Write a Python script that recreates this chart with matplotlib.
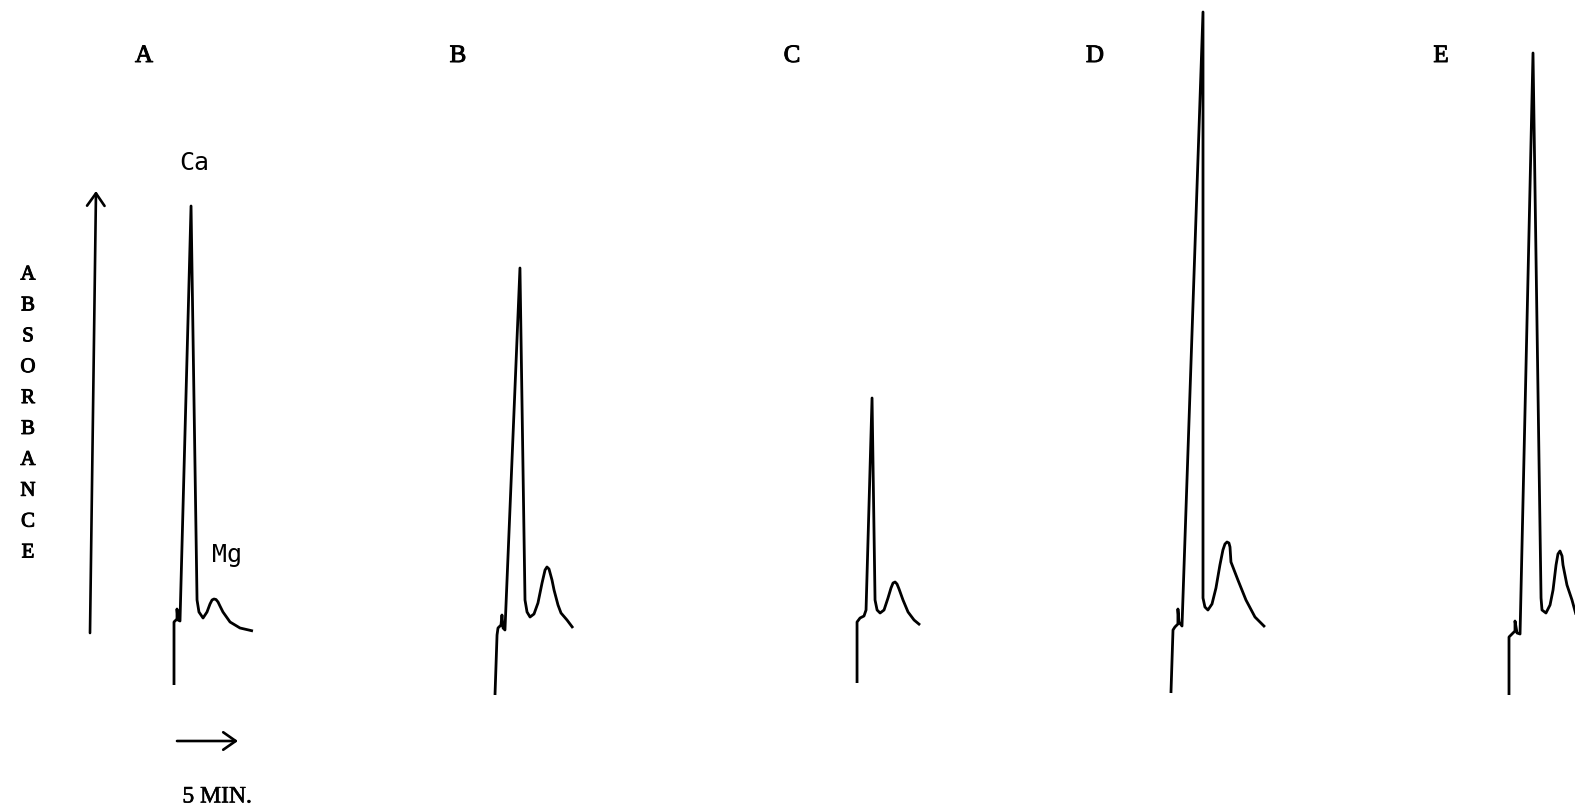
import matplotlib
matplotlib.use("Agg")
import matplotlib.pyplot as plt
import matplotlib.patheffects as pe

# ---- data: chromatogram traces (time in min after pen start, signal in absorbance units) ----
panel_labels = ["A", "B", "C", "D", "E"]
panel_start_min = [14.5, 41.25, 71.42, 97.58, 125.75]

time_A = [0, 0, 0.25, 0.25, 0.33, 0.5, 1.42, 1.92, 2.08, 2.42, 2.75, 3.0, 3.17, 3.33, 3.5, 3.67, 3.83, 4.08, 4.67, 5.5, 6.58]
sig_A = [0.15, 0.78, 0.81, 0.91, 0.80, 0.79, 4.94, 1.00, 0.88, 0.82, 0.88, 0.96, 1.00, 1.01, 1.005, 0.98, 0.94, 0.88, 0.78, 0.72, 0.69]

time_B = [0, 0.17, 0.25, 0.5, 0.58, 0.67, 0.83, 2.08, 2.5, 2.67, 2.92, 3.25, 3.58, 3.92, 4.17, 4.33, 4.5, 4.75, 4.92, 5.25, 5.5, 6.0, 6.5]
sig_B = [0.05, 0.65, 0.72, 0.75, 0.85, 0.72, 0.70, 4.32, 1.00, 0.88, 0.83, 0.86, 0.97, 1.17, 1.30, 1.33, 1.31, 1.20, 1.10, 0.95, 0.87, 0.80, 0.72]

time_C = [0, 0, 0.25, 0.58, 0.75, 1.25, 1.5, 1.67, 1.92, 2.25, 2.58, 2.83, 3.0, 3.17, 3.33, 3.5, 3.83, 4.25, 4.75, 5.25]
sig_C = [0.17, 0.78, 0.82, 0.84, 0.90, 3.02, 1.00, 0.90, 0.87, 0.90, 1.02, 1.12, 1.17, 1.18, 1.16, 1.11, 1.00, 0.88, 0.80, 0.75]

time_D = [0, 0.17, 0.33, 0.58, 0.58, 0.67, 0.92, 2.67, 2.67, 2.83, 3.08, 3.42, 3.75, 4.08, 4.33, 4.5, 4.67, 4.83, 4.92, 5.0, 5.58, 6.25, 7.0, 7.83]
sig_D = [0.07, 0.70, 0.73, 0.76, 0.91, 0.78, 0.74, 6.88, 1.02, 0.93, 0.90, 0.96, 1.12, 1.35, 1.50, 1.56, 1.58, 1.57, 1.53, 1.38, 1.20, 1.00, 0.83, 0.73]

time_E = [0, 0, 0.25, 0.5, 0.5, 0.67, 0.92, 2.0, 2.67, 2.75, 3.08, 3.42, 3.67, 3.92, 4.08, 4.25, 4.42, 4.5, 4.83, 5.25, 5.75]
sig_E = [0.05, 0.63, 0.66, 0.69, 0.79, 0.67, 0.66, 6.47, 1.02, 0.90, 0.87, 0.95, 1.10, 1.35, 1.46, 1.49, 1.44, 1.35, 1.15, 1.00, 0.78]

times = [time_A, time_B, time_C, time_D, time_E]
signals = [sig_A, sig_B, sig_C, sig_D, sig_E]

y_axis_label = "ABSORBANCE"
time_label = "5 MIN."
peak_labels = ["Ca", "Mg"]

# ---- figure ----
W, H, DPI = 1575, 807, 100
fig = plt.figure(figsize=(W / DPI, H / DPI), dpi=DPI)
ax = fig.add_axes([0, 0, 1, 1])
ax.set_xlim(0, W / 12.0)
ax.set_ylim((700 - H) / 100.0, 7.0)
ax.axis("off")

for t0, tt, ss in zip(panel_start_min, times, signals):
    ax.plot([t0 + t for t in tt], ss, color="black", lw=2.0,
            solid_joinstyle="round", solid_capstyle="butt")


def fp(x, y):
    return (x / W, 1 - y / H)


serif = "Liberation Serif"
bold_fx = [pe.withStroke(linewidth=0.7, foreground="black")]
letter_x = [144, 458, 792, 1095, 1441]
for lab, lx in zip(panel_labels, letter_x):
    fig.text(*fp(lx, 56), lab, fontsize=18, family=serif, ha="center", va="center",
             path_effects=bold_fx)

arrow_kw = dict(arrowstyle="->,head_length=0.5,head_width=0.35", lw=1.9,
                color="black", mutation_scale=18, shrinkA=0, shrinkB=0)
# vertical absorbance arrow
ax.annotate("", xy=fp(96, 191), xytext=fp(90, 633), xycoords="figure fraction",
            textcoords="figure fraction", arrowprops=arrow_kw)
# time arrow
ax.annotate("", xy=fp(238, 741), xytext=fp(177, 741), xycoords="figure fraction",
            textcoords="figure fraction", arrowprops=arrow_kw)
fig.text(*fp(217, 797), time_label, fontsize=17, family=serif, ha="center", va="center",
         path_effects=[pe.withStroke(linewidth=0.4, foreground="black")])

# vertical letters
n = len(y_axis_label)
for i, ch in enumerate(y_axis_label):
    y = 275 + i * (553 - 275) / (n - 1)
    fig.text(*fp(28, y), ch, fontsize=15, family=serif, ha="center", va="center",
             path_effects=bold_fx)

fig.text(*fp(194, 163), peak_labels[0], fontsize=18, family="DejaVu Sans Mono",
         ha="center", va="center")
fig.text(*fp(227, 555), peak_labels[1], fontsize=18, family="DejaVu Sans Mono",
         ha="center", va="center")

fig.savefig("out.png", dpi=DPI, facecolor="white")
